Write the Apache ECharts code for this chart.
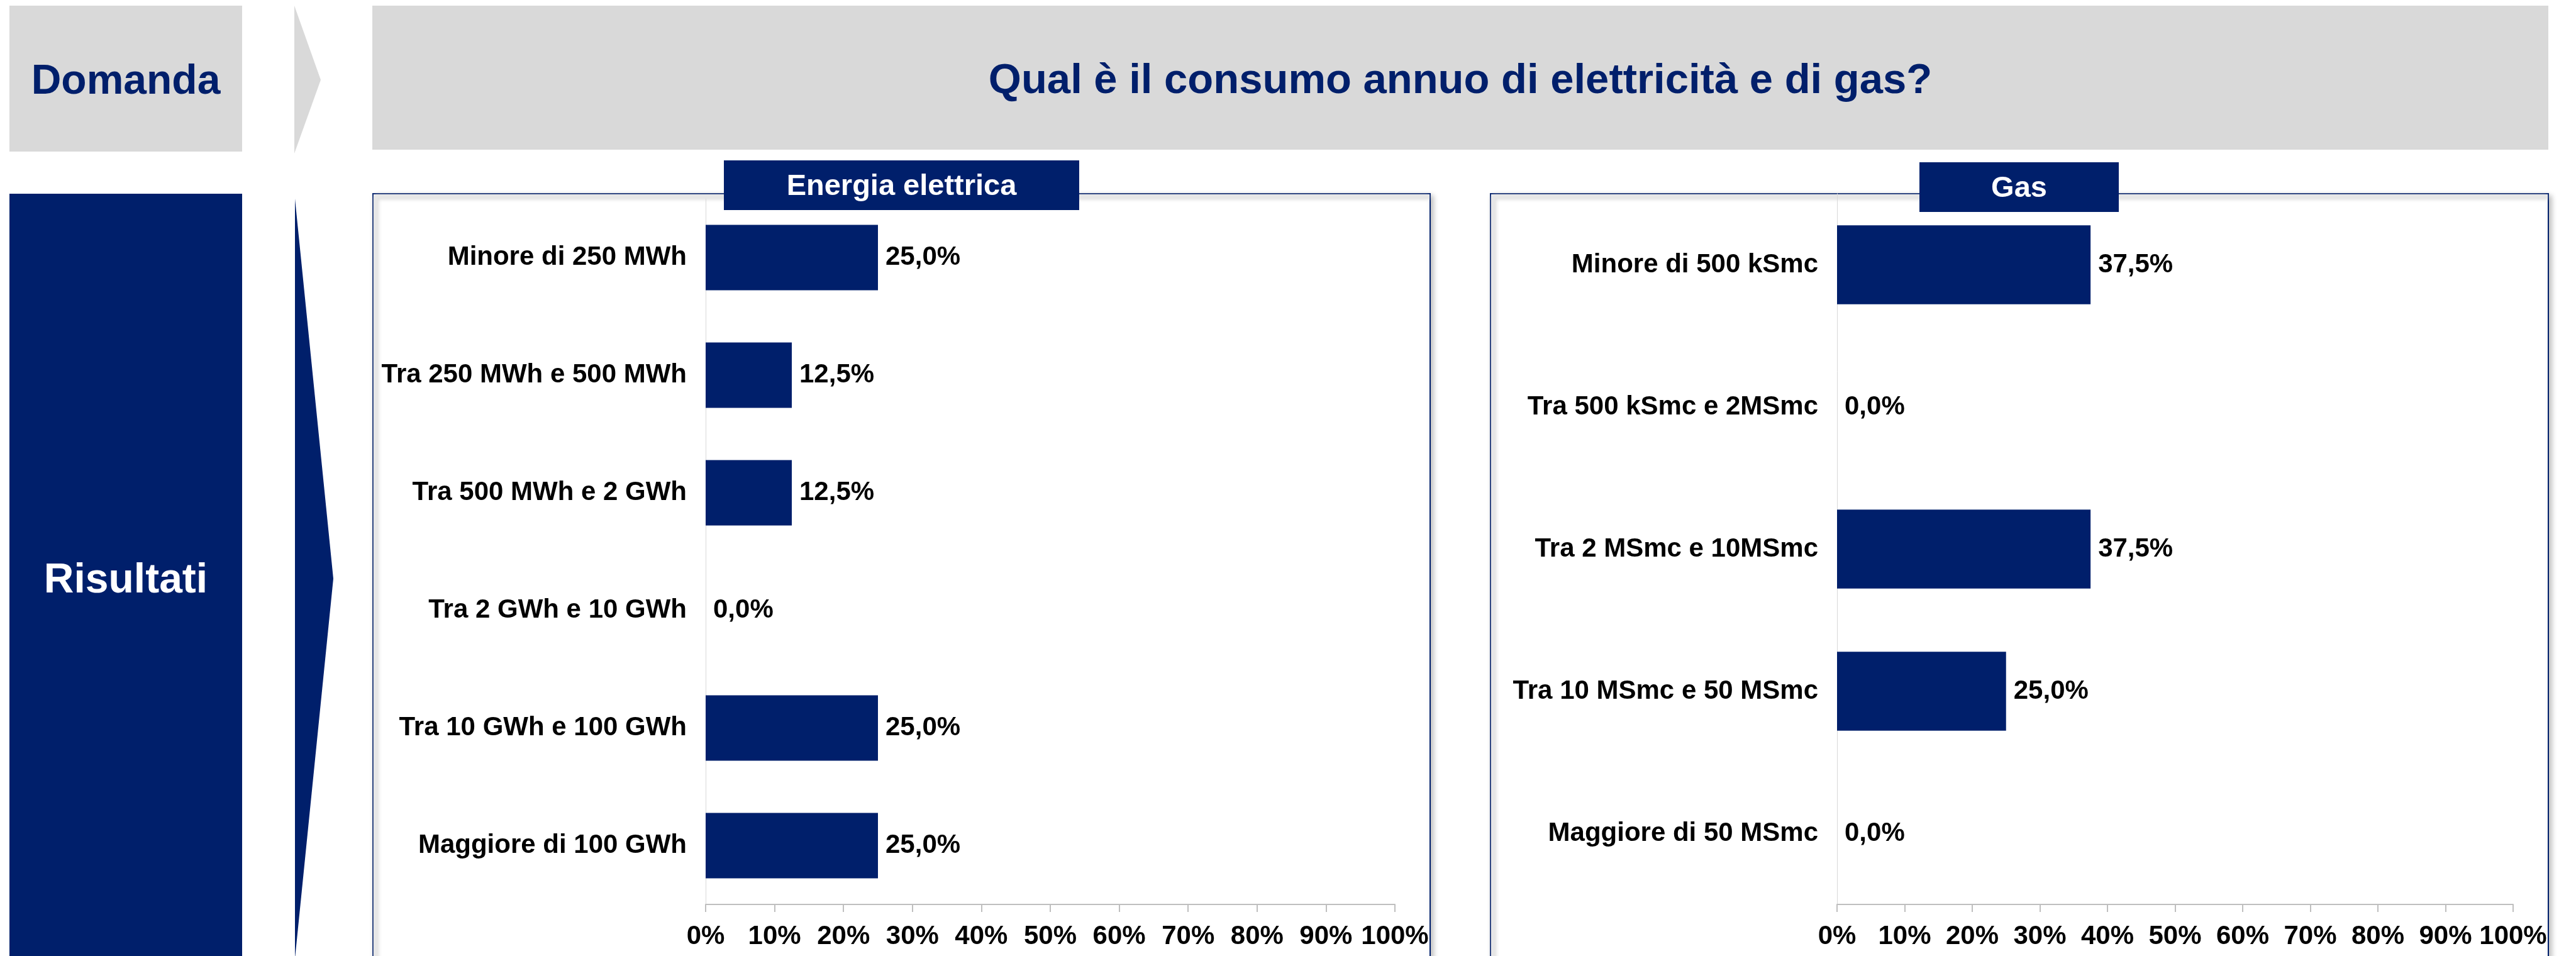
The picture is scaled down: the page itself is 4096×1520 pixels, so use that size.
<!DOCTYPE html>
<html>
<head>
<meta charset="utf-8">
<title>Consumo annuo di elettricità e gas</title>
<script src="https://cdn.jsdelivr.net/npm/echarts@6/dist/echarts.min.js"></script>
<style>
  html, body { margin: 0; padding: 0; background: #fff; }
  #chart { width: 4096px; height: 1520px; }
</style>
</head>
<body>
<div id="chart"></div>
<script>
// dati (percentuali)
var elettricitaCategorie = ['Minore di 250 MWh', 'Tra 250 MWh e 500 MWh', 'Tra 500 MWh e 2 GWh', 'Tra 2 GWh e 10 GWh', 'Tra 10 GWh e 100 GWh', 'Maggiore di 100 GWh'];
var elettricitaValori = [25, 12.5, 12.5, 0, 25, 25];
var gasCategorie = ['Minore di 500 kSmc', 'Tra 500 kSmc e 2MSmc', 'Tra 2 MSmc e 10MSmc', 'Tra 10 MSmc e 50 MSmc', 'Maggiore di 50 MSmc'];
var gasValori = [37.5, 0, 37.5, 25, 0];

var BLU = '#001f6b';
var GRIGIO = '#d9d9d9';
var FONT = '"Liberation Sans", Arial, sans-serif';

var valueAxis = function (idx) {
    return {
        type: 'value',
        gridIndex: idx,
        min: 0,
        max: 100,
        interval: 10,
        z: 3,
        axisLine: { show: true, lineStyle: { color: '#bfbfbf', width: 2 } },
        axisTick: { show: true, length: 12, lineStyle: { color: '#bfbfbf', width: 2 } },
        splitLine: { show: false },
        axisLabel: {
            formatter: '{value}%',
            margin: 30,
            color: '#000',
            fontFamily: FONT,
            fontWeight: 'bold',
            fontSize: 42
        }
    };
};

var categoryAxis = function (idx, data) {
    return {
        type: 'category',
        gridIndex: idx,
        data: data,
        inverse: true,
        z: 3,
        axisLine: { show: true, lineStyle: { color: '#d9d9d9', width: 1 } },
        axisTick: { show: false },
        axisLabel: {
            margin: 30,
            padding: [10, 0, 0, 0],
            color: '#000',
            fontFamily: FONT,
            fontWeight: 'bold',
            fontSize: 42
        }
    };
};

var barSerie = function (idx, data) {
    return {
        type: 'bar',
        xAxisIndex: idx,
        yAxisIndex: idx,
        data: data,
        barWidth: '55.5%',
        z: 4,
        itemStyle: { color: BLU },
        label: {
            show: true,
            position: 'right',
            distance: 12,
            padding: [10, 0, 0, 0],
            color: '#000',
            fontFamily: FONT,
            fontWeight: 'bold',
            fontSize: 42,
            formatter: function (p) {
                return p.value.toFixed(1).replace('.', ',') + '%';
            }
        }
    };
};

// riquadro con bordo blu e ombra grigia
var pannello = function (x1, x2) {
    return [{
        type: 'rect',
        z: 0,
        shape: { x: x1, y: 308, width: x2 - x1, height: 1240 },
        style: {
            fill: '#fff',
            stroke: BLU,
            lineWidth: 2,
            shadowBlur: 8,
            shadowOffsetX: 4,
            shadowOffsetY: 4,
            shadowColor: 'rgba(0,0,0,0.25)'
        }
    }, {
        type: 'polyline',
        z: 1,
        shape: { points: [[x1 + 5, 1540], [x1 + 5, 313], [x2 - 2, 313]] },
        style: { stroke: '#e6e6e6', lineWidth: 5, fill: null, shadowBlur: 6, shadowColor: '#d6d6d6' }
    }];
};

var etichetta = function (x1, x2, y1, y2, testo) {
    return [{
        type: 'rect',
        z: 10,
        shape: { x: x1, y: y1, width: x2 - x1, height: y2 - y1 },
        style: { fill: BLU }
    }, {
        type: 'text',
        z: 11,
        x: (x1 + x2) / 2,
        y: (y1 + y2) / 2 + 3,
        style: {
            text: testo,
            align: 'center',
            verticalAlign: 'middle',
            fill: '#fff',
            fontFamily: FONT,
            fontWeight: 'bold',
            fontSize: 47
        }
    }];
};

var grafica = [
    // Domanda
    { type: 'rect', shape: { x: 15, y: 9, width: 370, height: 232 }, style: { fill: GRIGIO } },
    {
        type: 'text', x: 200, y: 131,
        style: { text: 'Domanda', align: 'center', verticalAlign: 'middle', fill: BLU, fontFamily: FONT, fontWeight: 'bold', fontSize: 66 }
    },
    { type: 'polygon', shape: { points: [[468, 9], [510, 127], [468, 244]] }, style: { fill: GRIGIO } },
    { type: 'rect', shape: { x: 592, y: 9, width: 3460, height: 229 }, style: { fill: GRIGIO } },
    {
        type: 'text', x: 2322, y: 130,
        style: { text: 'Qual è il consumo annuo di elettricità e di gas?', align: 'center', verticalAlign: 'middle', fill: BLU, fontFamily: FONT, fontWeight: 'bold', fontSize: 67 }
    },
    // Risultati
    { type: 'rect', shape: { x: 15, y: 308, width: 370, height: 1230 }, style: { fill: BLU } },
    {
        type: 'text', x: 200, y: 924,
        style: { text: 'Risultati', align: 'center', verticalAlign: 'middle', fill: '#fff', fontFamily: FONT, fontWeight: 'bold', fontSize: 66 }
    },
    { type: 'polygon', shape: { points: [[469, 316], [530, 920], [469, 1524]] }, style: { fill: BLU } }
].concat(pannello(593, 2274))
 .concat(pannello(2370, 4052))
 .concat(etichetta(1151, 1716, 255, 334, 'Energia elettrica'))
 .concat(etichetta(3052, 3369, 258, 337, 'Gas'));

var chart = echarts.init(document.getElementById('chart'));
var option = {
    animation: false,
    backgroundColor: '#fff',
    graphic: { elements: grafica },
    grid: [
        { left: 1122, right: 1878, top: 316, bottom: 82, containLabel: false },
        { left: 2921, right: 100, top: 308, bottom: 82, containLabel: false }
    ],
    xAxis: [valueAxis(0), valueAxis(1)],
    yAxis: [categoryAxis(0, elettricitaCategorie), categoryAxis(1, gasCategorie)],
    series: [barSerie(0, elettricitaValori), barSerie(1, gasValori)]
};
chart.setOption(option);
</script>
</body>
</html>
